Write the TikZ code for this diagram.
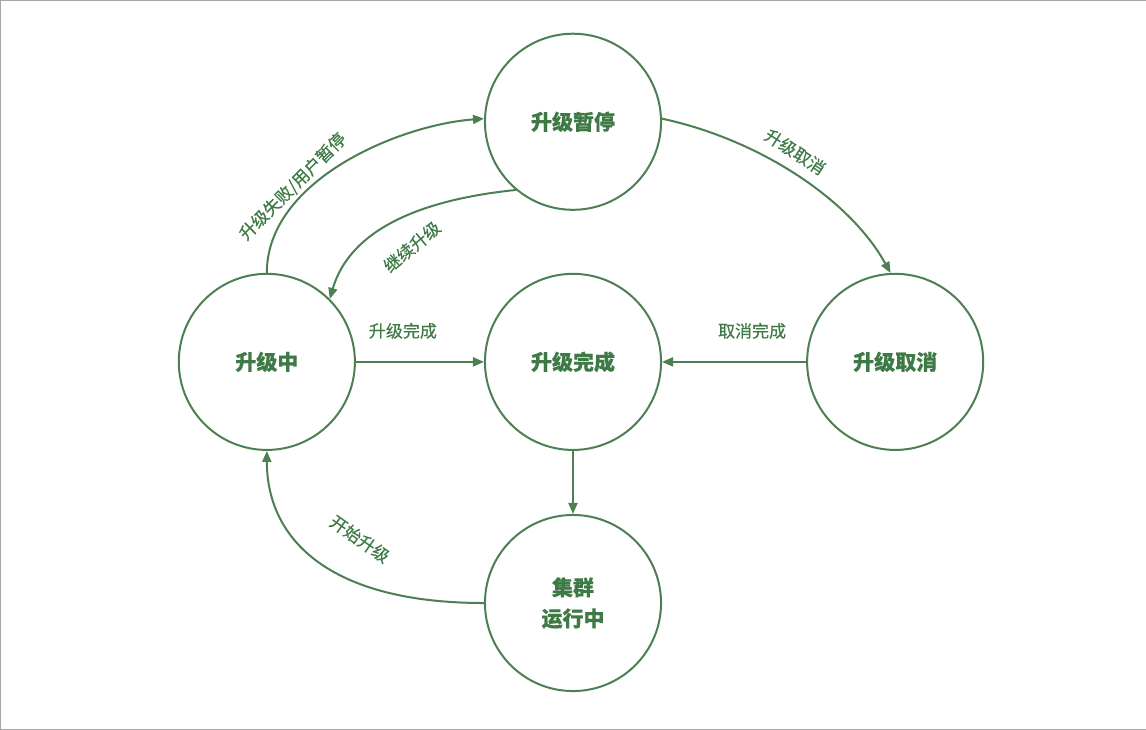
\documentclass[tikz,border=0pt]{standalone}
\usepackage{fontspec}
\setmainfont{Noto Sans CJK SC}[FakeBold=0.4]
\usetikzlibrary{arrows.meta}
\definecolor{gr}{HTML}{4E7F52}
\definecolor{tx}{HTML}{3E7A45}
\begin{document}
\begin{tikzpicture}[x=1pt,y=-1pt,
  st/.style={circle,draw=gr,line width=2pt,minimum size=176pt,inner sep=0pt,font=\fontsize{21}{27}\selectfont\bfseries,text=tx,align=center},
  ar/.style={draw=gr,line width=2pt,-{Triangle[length=11pt,width=9pt]}},
  lb/.style={font=\fontsize{17}{19}\selectfont,text=tx}]
\draw[gray!70,fill=white] (0.5,0.5) rectangle (1145.5,729.5);
\node[st] (p) at (573,122) {升级暂停};
\node[st] (m) at (267,362) {升级中};
\node[st] (d) at (573,362) {升级完成};
\node[st] (c) at (895,362) {升级取消};
\node[st] (r) at (573,603) {集群\\[4pt]运行中};
\draw[ar] (m.90) .. controls (267,180) and (400,125) .. (p.178);
\draw[ar] (p.230) .. controls (420,200) and (350,230) .. (m.45);
\draw[ar] (p.2) .. controls (760,140) and (850,200) .. (c.93);
\draw[ar] (m) -- (d);
\draw[ar] (c) -- (d);
\draw[ar] (d) -- (r);
\draw[ar] (r.180) .. controls (330,603) and (267,540) .. (m.270);
\node[lb,rotate=45] at (293,187) {升级失败/用户暂停};
\node[lb,rotate=40] at (412,247) {继续升级};
\node[lb,rotate=-33] at (795,152) {升级取消};
\node[lb] at (403,331) {升级完成};
\node[lb] at (752,331) {取消完成};
\node[lb,rotate=-35] at (360,539) {开始升级};
\end{tikzpicture}
\end{document}
